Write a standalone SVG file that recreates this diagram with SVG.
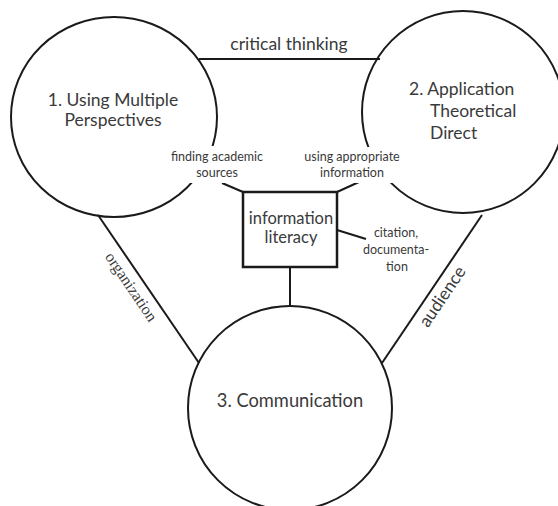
<svg xmlns="http://www.w3.org/2000/svg" width="558" height="506" viewBox="0 0 558 506">
<style>
.bg{fill:#ffffff}
.ln{stroke:#1a1a1a;stroke-width:2;fill:none}
.node{stroke:#1a1a1a;stroke-width:2;fill:none}
.box{stroke:#1a1a1a;stroke-width:2.5;fill:#ffffff}
.t{font-family:Lato,"Open Sans","Noto Sans",sans-serif;fill:#3a3a3a}
.big{font-size:17.5px}
.sm{font-size:12.5px}
.serif{font-family:"Liberation Serif","DejaVu Serif",serif;fill:#3a3a3a;font-size:16px}
.mid{text-anchor:middle}
.lbl{fill:#ffffff;stroke:none}
</style>
<rect class="bg" x="0" y="0" width="558" height="506"/>
<g id="connectors">
<line class="ln" x1="199" y1="59" x2="380" y2="59"/>
<line class="ln" x1="98" y1="215" x2="199" y2="363"/>
<line class="ln" x1="482" y1="215" x2="382" y2="363"/>
<line class="ln" x1="243" y1="192" x2="222" y2="183"/>
<line class="ln" x1="337" y1="192" x2="359" y2="182"/>
<line class="ln" x1="337" y1="230" x2="366" y2="239"/>
<line class="ln" x1="290" y1="267" x2="290" y2="306"/>
</g>
<g id="node1">
<ellipse class="node" cx="114" cy="117" rx="103" ry="100"/>
<text class="t big mid" x="113" y="106">1. Using Multiple</text>
<text class="t big mid" x="113" y="126">Perspectives</text>
</g>
<g id="node2">
<circle class="node" cx="463" cy="112" r="101"/>
<text class="t big" x="409" y="95">2. Application</text>
<text class="t big" x="430" y="117">Theoretical</text>
<text class="t big" x="430" y="139">Direct</text>
</g>
<g id="node3">
<circle class="node" cx="290" cy="408" r="102"/>
<text class="t mid" x="290" y="407" style="font-size:18.3px">3. Communication</text>
</g>
<g id="info">
<rect class="box" x="243" y="192" width="94" height="75"/>
<text class="t mid" x="291" y="224" style="font-size:16.5px">information</text>
<text class="t mid" x="291" y="243" style="font-size:16.5px">literacy</text>
</g>
<g id="labels">
<text class="t big mid" x="289" y="50">critical thinking</text>
<rect class="lbl" x="167" y="146" width="101" height="37"/>
<text class="t sm mid" x="217" y="161">finding academic</text>
<text class="t sm mid" x="217" y="177">sources</text>
<rect class="lbl" x="301" y="147" width="103" height="36"/>
<text class="t sm mid" x="352" y="161">using appropriate</text>
<text class="t sm mid" x="352" y="177">information</text>
<text class="t sm mid" x="396" y="237">citation,</text>
<text class="t sm mid" x="396" y="254">documenta-</text>
<text class="t sm mid" x="397" y="271">tion</text>
<text class="serif mid" transform="translate(131,287) rotate(56)" x="0" y="5">organization</text>
<text class="t big mid" transform="translate(443,297) rotate(-56)" x="0" y="5">audience</text>
</g>
</svg>
